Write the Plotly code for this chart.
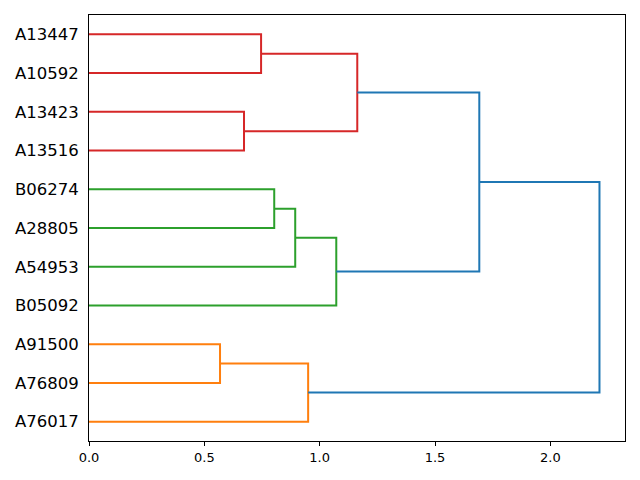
import plotly.graph_objects as go

# leaves, bottom to top (scipy leaf order)
leaf_labels = ["A76017", "A76809", "A91500", "B05092", "A54953", "A28805",
               "B06274", "A13516", "A13423", "A10592", "A13447"]

# merges: (left child, right child, height, color); children are leaf names or "n<i>" merge ids
merge_left = ["A91500", "n0", "B06274", "n2", "n3", "A13447", "A13423", "n5", "n7", "n8"]
merge_right = ["A76809", "A76017", "A28805", "A54953", "B05092", "A10592", "A13516", "n6", "n4", "n1"]
merge_height = [0.568, 0.950, 0.803, 0.894, 1.072, 0.746, 0.672, 1.163, 1.692, 2.213]
merge_color = ["#ff7f0e", "#ff7f0e", "#2ca02c", "#2ca02c", "#2ca02c",
               "#d62728", "#d62728", "#d62728", "#1f77b4", "#1f77b4"]

pos = {name: 5 + 10 * i for i, name in enumerate(leaf_labels)}
hgt = {name: 0.0 for name in leaf_labels}

fig = go.Figure()
for i, (a, b, h, c) in enumerate(zip(merge_left, merge_right, merge_height, merge_color)):
    ya, yb = pos[a], pos[b]
    fig.add_trace(go.Scatter(
        x=[hgt[a], h, h, hgt[b]], y=[ya, ya, yb, yb],
        mode="lines", line=dict(color=c, width=2), showlegend=False, hoverinfo="skip"))
    pos[f"n{i}"] = (ya + yb) / 2
    hgt[f"n{i}"] = h

xmax = max(merge_height) * 1.05
fig.update_layout(
    width=632, height=472, plot_bgcolor="white", paper_bgcolor="white",
    margin=dict(l=81, r=15, t=7, b=39),
    font=dict(family="DejaVu Sans", color="black"),
    xaxis=dict(range=[0, xmax], showgrid=False, zeroline=False, showline=True,
               linecolor="black", linewidth=1, mirror=True, ticks="outside",
               ticklen=4, tickwidth=1, tickcolor="black", dtick=0.5, tick0=0,
               tickformat=".1f", tickfont=dict(size=13), automargin=False),
    yaxis=dict(range=[0, 10 * len(leaf_labels)], showgrid=False, zeroline=False,
               showline=True, linecolor="black", linewidth=1, mirror=True,
               ticks="", tickvals=[5 + 10 * i for i in range(len(leaf_labels))],
               ticktext=leaf_labels, tickfont=dict(size=16.5), ticklabelstandoff=6,
               automargin=False),
)
fig.write_html("out.html")
